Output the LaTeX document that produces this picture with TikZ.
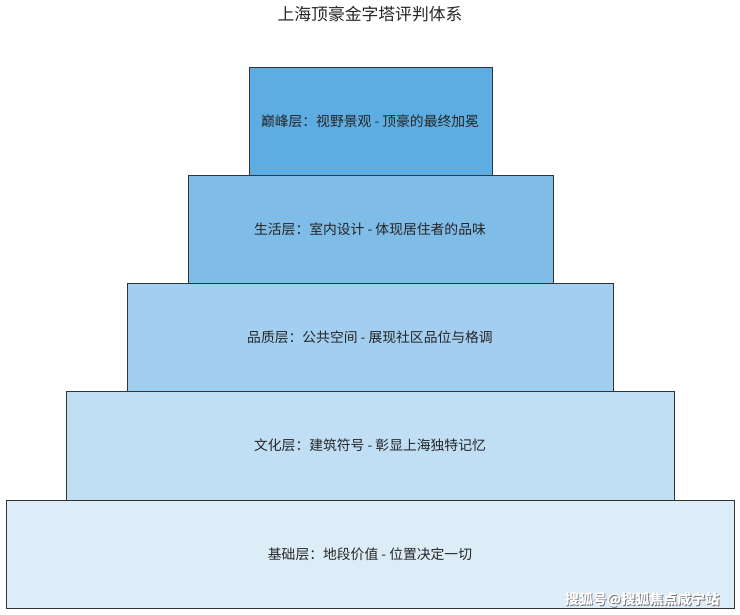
\documentclass[tikz,border=0pt]{standalone}
\usepackage{fontspec}
\newfontfamily\cjk{Noto Sans CJK SC}
\definecolor{cA}{HTML}{5DADE2}
\definecolor{cB}{HTML}{7FBCE8}
\definecolor{cC}{HTML}{A2CEEF}
\definecolor{cD}{HTML}{C0DFF5}
\definecolor{cE}{HTML}{DCEDF8}
\definecolor{edge}{HTML}{333333}
\begin{document}
\begin{tikzpicture}[x=1pt,y=-1pt,
  layer/.style={draw=edge,line width=0.9pt},
  lbl/.style={font=\cjk\fontsize{13.8}{16}\selectfont,text=black!85},
  wm/.style={font=\cjk\bfseries\fontsize{14}{16}\selectfont,anchor=east}]
\useasboundingbox (0,0) rectangle (740,615);
\node[font=\cjk\fontsize{16.8}{19}\selectfont,text=black!85] (title) at (370,14) {上海顶豪金字塔评判体系};
\draw[layer,fill=cE] (6,500) rectangle (734,608);
\draw[layer,fill=cD] (66,391) rectangle (674,500);
\draw[layer,fill=cC] (127,283) rectangle (613,391);
\draw[layer,fill=cB] (188,175) rectangle (553,283);
\draw[layer,fill=cA] (249,67) rectangle (492,175);
\node[lbl] (l1) at (370,121) {巅峰层：视野景观 - 顶豪的最终加冕};
\node[lbl] (l2) at (370,229) {生活层：室内设计 - 体现居住者的品味};
\node[lbl] (l3) at (370,337) {品质层：公共空间 - 展现社区品位与格调};
\node[lbl] (l4) at (370,445.5) {文化层：建筑符号 - 彰显上海独特记忆};
\node[lbl] (l5) at (370,554) {基础层：地段价值 - 位置决定一切};
\node[wm,text=black!55] (wms) at (723.8,600.8) {搜狐号@搜狐焦点咸宁站};
\node[wm,text=white] (wm) at (723,600) {搜狐号@搜狐焦点咸宁站};
\end{tikzpicture}
\end{document}
